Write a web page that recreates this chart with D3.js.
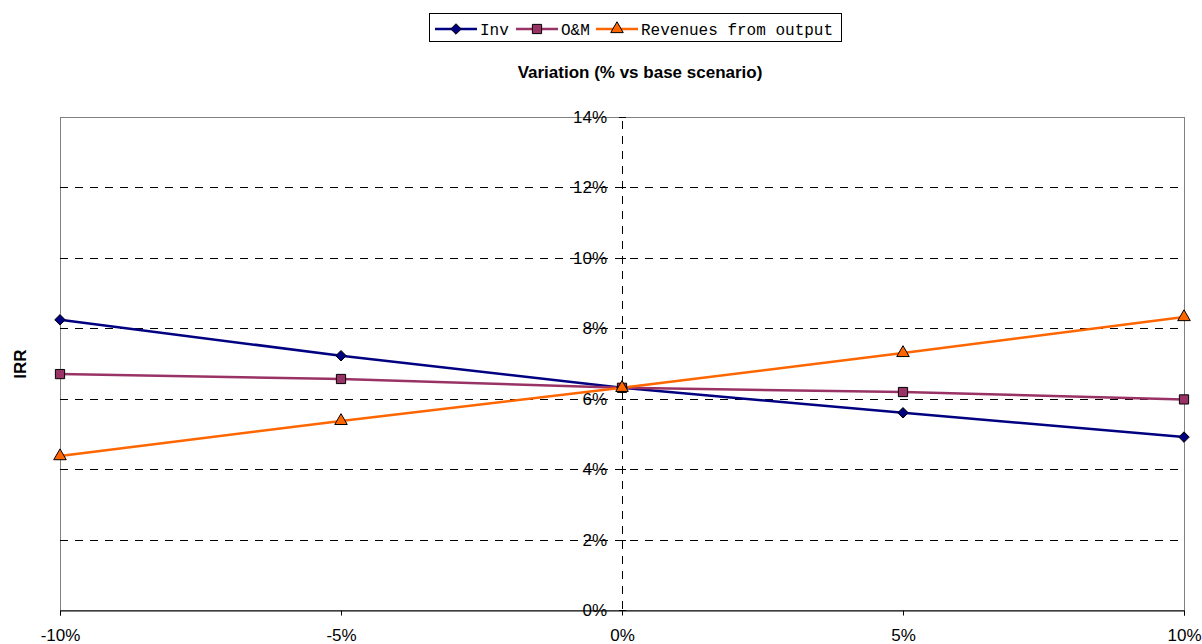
<!DOCTYPE html>
<html>
<head>
<meta charset="utf-8">
<script src="https://cdn.jsdelivr.net/npm/d3@7"></script>
<style>
    body { margin: 0; background: #fff; }
    svg { display: block; }
</style>
</head>
<body>
<svg id="chart" width="1202" height="644"></svg>
<script>
//Chart data
let variations = [-10, -5, 0, 5, 10];
let invValues = [8.24, 7.22, 6.31, 5.6, 4.91];
let omValues = [6.7, 6.56, 6.31, 6.19, 5.98];
let revenueValues = [4.37, 5.37, 6.31, 7.3, 8.32];
let yTicks = [0, 2, 4, 6, 8, 10, 12, 14];
let seriesNames = ["Inv", "O&M", "Revenues from output"];

let series = [
    {name: seriesNames[0], values: invValues, color: "#000080", marker: "diamond"},
    {name: seriesNames[1], values: omValues, color: "#993366", marker: "square"},
    {name: seriesNames[2], values: revenueValues, color: "#FF6600", marker: "triangle"}
];

let svg = d3.select("#chart");
let plotLeft = 60, plotRight = 1184, plotTop = 117, plotBottom = 610;
let labelFont = "Liberation Sans, Arial, sans-serif";

//Scales
let x = d3.scaleLinear().domain([-10, 10]).range([plotLeft, plotRight]);
let y = d3.scaleLinear().domain([0, 14]).range([plotBottom, plotTop]);

//Plot area border
svg.append("rect")
    .attr("x", plotLeft + 0.5).attr("y", plotTop + 0.5)
    .attr("width", plotRight - plotLeft).attr("height", plotBottom - plotTop)
    .attr("fill", "none").attr("stroke", "#808080").attr("stroke-width", 1);

//Horizontal dashed gridlines
svg.append("g")
    .selectAll("line")
    .data(yTicks.filter(d => d > 0 && d < 14))
    .enter().append("line")
    .attr("x1", plotLeft).attr("x2", plotRight)
    .attr("y1", d => Math.round(y(d)) + 0.5).attr("y2", d => Math.round(y(d)) + 0.5)
    .attr("stroke", "#000").attr("stroke-dasharray", "8,7");

//Vertical axis through 0% drawn dashed
svg.append("line")
    .attr("x1", Math.round(x(0)) + 0.5).attr("x2", Math.round(x(0)) + 0.5)
    .attr("y1", plotTop + 4).attr("y2", plotBottom)
    .attr("stroke", "#000").attr("stroke-dasharray", "8,7");

//Bottom axis
let xAxis = d3.axisBottom(x)
    .tickValues(variations)
    .tickSize(5)
    .tickFormat(d => d + "%");
let gx = svg.append("g")
    .attr("transform", "translate(0," + (plotBottom + 0.5) + ")")
    .call(xAxis);
gx.select(".domain").attr("stroke", "#000");
gx.selectAll(".tick line").attr("stroke", "#000");
gx.selectAll("text")
    .attr("font-family", labelFont)
    .attr("font-size", "17px")
    .attr("fill", "#000")
    .attr("y", 0)
    .attr("dy", "1.8em");

//Y tick labels and small ticks on the 0% axis
let gy = svg.append("g");
gy.selectAll("line")
    .data(yTicks)
    .enter().append("line")
    .attr("x1", x(0) - 3).attr("x2", x(0) + 4)
    .attr("y1", d => Math.round(y(d)) + 0.5).attr("y2", d => Math.round(y(d)) + 0.5)
    .attr("stroke", "#000");
gy.selectAll("text")
    .data(yTicks)
    .enter().append("text")
    .attr("x", x(0) - 15)
    .attr("y", d => y(d))
    .attr("dy", "0.35em")
    .attr("text-anchor", "end")
    .attr("font-family", labelFont)
    .attr("font-size", "17px")
    .text(d => d + "%");

//Lines
let line = d3.line()
    .x((d, i) => x(variations[i]))
    .y(d => y(d));

svg.append("g")
    .selectAll("path")
    .data(series)
    .enter().append("path")
    .attr("d", d => line(d.values))
    .attr("fill", "none")
    .attr("stroke", d => d.color)
    .attr("stroke-width", 2.5);

//Markers
let symbolFor = {
    diamond: d3.symbol().type(d3.symbolDiamond2).size(70),
    square: d3.symbol().type(d3.symbolSquare).size(85),
    triangle: d3.symbol().type(d3.symbolTriangle).size(68)
};

series.forEach(s => {
    svg.append("g")
        .selectAll("path")
        .data(s.values)
        .enter().append("path")
        .attr("transform", (d, i) => "translate(" + x(variations[i]) + "," + y(d) + ")")
        .attr("d", symbolFor[s.marker])
        .attr("fill", s.color)
        .attr("stroke", "#000")
        .attr("stroke-width", 1);
});

//Title and axis label
svg.append("text")
    .attr("x", 640).attr("y", 78)
    .attr("text-anchor", "middle")
    .attr("font-family", labelFont)
    .attr("font-size", "17px")
    .attr("font-weight", "bold")
    .text("Variation (% vs base scenario)");

svg.append("text")
    .attr("transform", "translate(26,364) rotate(-90)")
    .attr("text-anchor", "middle")
    .attr("font-family", labelFont)
    .attr("font-size", "17px")
    .attr("font-weight", "bold")
    .text("IRR");

//Legend
let legend = svg.append("g");
legend.append("rect")
    .attr("x", 429.5).attr("y", 13.5)
    .attr("width", 412).attr("height", 28)
    .attr("fill", "#fff").attr("stroke", "#000");

let legendX = [435, 516, 596];
series.forEach((s, i) => {
    let lx = legendX[i];
    legend.append("line")
        .attr("x1", lx).attr("x2", lx + 42)
        .attr("y1", 29).attr("y2", 29)
        .attr("stroke", s.color).attr("stroke-width", 2.5);
    legend.append("path")
        .attr("transform", "translate(" + (lx + 21) + ",29)")
        .attr("d", symbolFor[s.marker])
        .attr("fill", s.color)
        .attr("stroke", "#000");
    legend.append("text")
        .attr("x", lx + 45).attr("y", 29)
        .attr("dy", "0.35em")
        .attr("font-family", "Liberation Mono, DejaVu Sans Mono, monospace")
        .attr("font-size", "16px")
        .text(s.name);
});
</script>
</body>
</html>
